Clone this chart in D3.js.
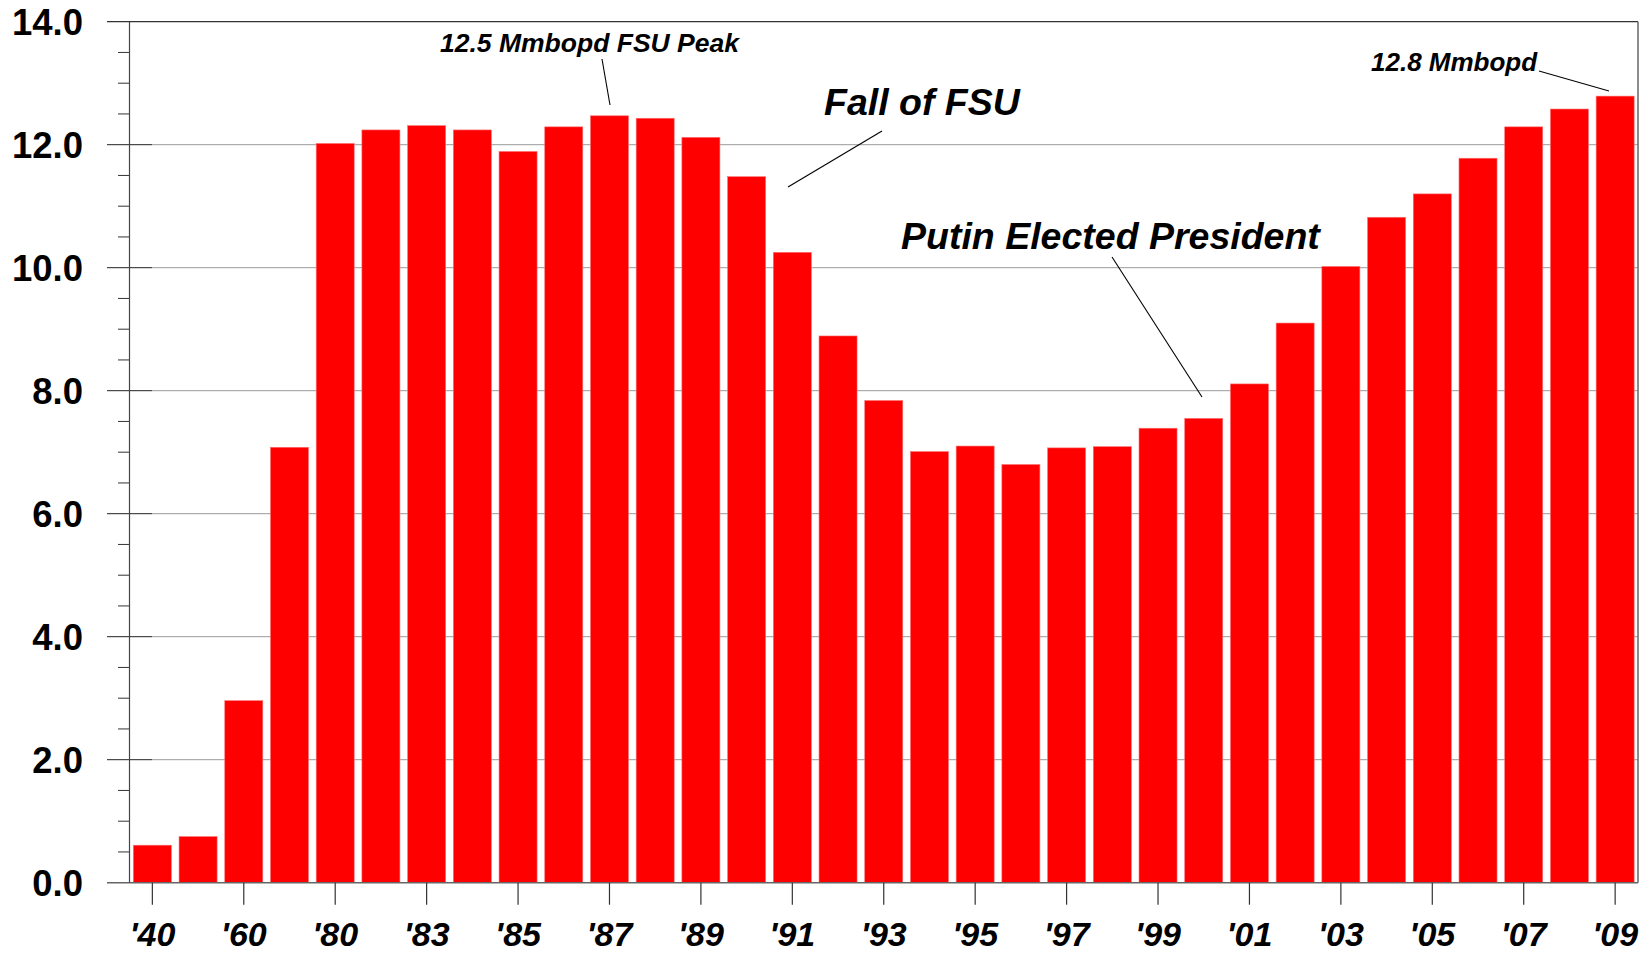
<!DOCTYPE html>
<html>
<head>
<meta charset="utf-8">
<script src="https://cdn.jsdelivr.net/npm/d3@7"></script>
<style>
  html, body { margin: 0; padding: 0; background: #fff; }
  svg { display: block; }
  text { font-family: "Liberation Sans", Arial, Helvetica, sans-serif; }
</style>
</head>
<body>
<svg id="chart" width="1648" height="954"></svg>
<script>
// ---- Data ----
const categories = ["'40","'50","'60","'70","'80","'82","'83","'84","'85","'86","'87","'88","'89","'90","'91","'92","'93","'94","'95","'96","'97","'98","'99","'00","'01","'02","'03","'04","'05","'06","'07","'08","'09"];
const production = [0.61,0.75,2.96,7.08,12.02,12.24,12.31,12.24,11.89,12.29,12.47,12.43,12.12,11.48,10.25,8.89,7.84,7.01,7.10,6.80,7.07,7.09,7.39,7.55,8.11,9.10,10.02,10.82,11.20,11.78,12.29,12.58,12.79];
const xTickLabels = ["'40","'60","'80","'83","'85","'87","'89","'91","'93","'95","'97","'99","'01","'03","'05","'07","'09"];
const yMajorTicks = [0,2,4,6,8,10,12,14];
const annotationTexts = ["12.5 Mmbopd FSU Peak","Fall of FSU","Putin Elected President","12.8 Mmbopd"];

(function () {
// ---- Layout ----
const svg = d3.select("#chart");
const mLeft = 129.5, mRight = 1638, mTop = 21.7, mBottom = 882.7;

const x = d3.scaleBand().domain(categories).range([mLeft, mRight])
  .paddingInner(0.168).paddingOuter(0.084);
const y = d3.scaleLinear().domain([0, 14]).range([mBottom, mTop]);

// gridlines
svg.append("g").selectAll("line").data(yMajorTicks.filter(d => d > 0 && d < 14)).join("line")
  .attr("x1", 152).attr("x2", mRight)
  .attr("y1", d => y(d)).attr("y2", d => y(d))
  .attr("stroke", "#9a9a9a").attr("stroke-width", 1);

// bars
svg.append("g").selectAll("rect").data(production).join("rect")
  .attr("x", (d, i) => x(categories[i]))
  .attr("y", d => y(d))
  .attr("width", x.bandwidth())
  .attr("height", d => y(0) - y(d))
  .attr("fill", "#ff0000")
  .attr("stroke", "#ff7070").attr("stroke-width", 0.6);

// y axis: minor ticks
const minor = d3.range(0, 14.01, 0.5).filter(v => Math.abs(v % 2) > 0.01);
svg.append("g").selectAll("line").data(minor).join("line")
  .attr("x1", 118).attr("x2", mLeft)
  .attr("y1", d => y(d)).attr("y2", d => y(d))
  .attr("stroke", "#333").attr("stroke-width", 1);

// y axis: major ticks
svg.append("g").selectAll("line").data(yMajorTicks.filter(d => d > 0 && d < 14)).join("line")
  .attr("x1", 107).attr("x2", 152)
  .attr("y1", d => y(d)).attr("y2", d => y(d))
  .attr("stroke", "#222").attr("stroke-width", 1);

// frame: top, right, bottom, left
svg.append("line").attr("x1", 107).attr("x2", mRight).attr("y1", y(14)).attr("y2", y(14))
  .attr("stroke", "#333").attr("stroke-width", 1.2);
svg.append("line").attr("x1", mRight).attr("x2", mRight).attr("y1", y(14)).attr("y2", y(0))
  .attr("stroke", "#666").attr("stroke-width", 1.5);
svg.append("line").attr("x1", 107).attr("x2", mRight).attr("y1", y(0)).attr("y2", y(0))
  .attr("stroke", "#666").attr("stroke-width", 1.5);
svg.append("line").attr("x1", mLeft).attr("x2", mLeft).attr("y1", y(14)).attr("y2", y(0))
  .attr("stroke", "#444").attr("stroke-width", 1.2);

// y labels
svg.append("g").selectAll("text").data(yMajorTicks).join("text")
  .attr("x", 83).attr("y", d => y(d) + 13.5)
  .attr("text-anchor", "end")
  .attr("font-size", 36.5).attr("font-weight", "bold").attr("fill", "#000")
  .text(d => d.toFixed(1));

// x ticks and labels
const xAxis = d3.axisBottom(x)
  .tickValues(xTickLabels)
  .tickSize(22).tickPadding(0);
const gx = svg.append("g").attr("transform", `translate(0,${mBottom})`).call(xAxis);
gx.select(".domain").remove();
gx.selectAll(".tick line").attr("stroke", "#333").attr("stroke-width", 1.2);
gx.selectAll(".tick text")
  .attr("y", 63.5).attr("dy", 0)
  .attr("font-size", 34).attr("font-weight", "bold").attr("font-style", "italic")
  .attr("font-family", "'Liberation Sans', Arial, sans-serif")
  .attr("fill", "#000");

// annotations
const ann = [
  { t: annotationTexts[0], x: 440, y: 52, fs: 26.5, line: [602, 59, 610, 105] },
  { t: annotationTexts[1], x: 824, y: 115, fs: 37.5, line: [882, 131, 788, 187] },
  { t: annotationTexts[2], x: 901, y: 249, fs: 37.5, line: [1112, 257, 1202, 397] },
  { t: annotationTexts[3], x: 1371, y: 70.5, fs: 26, line: [1539, 71, 1609, 91] }
];
const ga = svg.append("g");
ga.selectAll("text").data(ann).join("text")
  .attr("x", d => d.x).attr("y", d => d.y)
  .attr("font-size", d => d.fs).attr("font-weight", "bold").attr("font-style", "italic")
  .attr("fill", "#000")
  .text(d => d.t);
ga.selectAll("line").data(ann).join("line")
  .attr("x1", d => d.line[0]).attr("y1", d => d.line[1])
  .attr("x2", d => d.line[2]).attr("y2", d => d.line[3])
  .attr("stroke", "#000").attr("stroke-width", 1.1);
})();
</script>
</body>
</html>
